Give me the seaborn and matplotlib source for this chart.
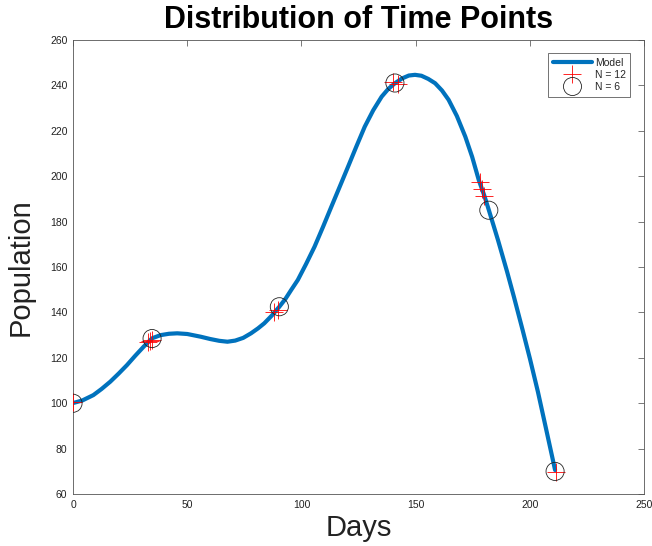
import numpy as np
import matplotlib
matplotlib.use("Agg")
import matplotlib.pyplot as plt
from matplotlib.lines import Line2D
import pandas as pd
import seaborn as sns

# model curve
model_days = [0, 4, 8.9, 12.5, 16.3, 20, 23.6, 27.3, 30.9, 34.6, 38.3, 42, 45.6, 50,
              55.9, 60, 64, 67.6, 71, 74.5, 77.9, 81, 83.7, 87, 90.3, 93, 95.5, 98.4,
              102, 105.7, 109.4, 113.1, 116.8, 120.4, 124, 127.7, 131.4, 135.1, 138,
              140.9, 144, 147, 149.7, 152.5, 155.5, 158.5, 161.5, 164.4, 168, 171.7,
              174.7, 177.6, 180, 182, 186, 190, 193, 196.7, 200, 203.5, 207, 211]
model_pop = [100.1, 101.2, 103.6, 106.3, 109.5, 113.1, 116.8, 121.0, 124.9, 128.6,
             130.0, 130.6, 130.8, 130.5, 129.3, 128.3, 127.5, 127.1, 127.6, 128.8,
             130.8, 133.0, 135.2, 138.6, 142.5, 146.0, 149.9, 154.3, 161.3, 168.9,
             177.6, 186.6, 195.5, 204.2, 213.0, 221.8, 229.0, 235.0, 238.4, 240.9,
             243.0, 244.3, 244.6, 244.2, 242.8, 240.9, 237.7, 233.6, 226.5, 217.4,
             208.5, 198.3, 191.5, 185.1, 171.9, 157.9, 146.8, 132.6, 119.6, 105.0,
             89.0, 70.6]

# N = 12 samples
n12_days = [0.1, 32.7, 33.6, 34.6, 88.1, 89.6, 140.2, 142.4, 178.3, 179.1, 179.8, 211.3]
n12_pop = [100.4, 127.0, 127.5, 128.0, 140.3, 141.1, 241.6, 240.6, 197.6, 194.4, 191.4, 69.8]

# N = 6 samples
n6_days = [0, 34.6, 90.3, 140.9, 182.0, 211.0]
n6_pop = [100.0, 128.5, 142.5, 241.0, 185.0, 70.0]

x_ticks = [0, 50, 100, 150, 200, 250]
y_ticks = [60, 80, 100, 120, 140, 160, 180, 200, 220, 240, 260]

blue = '#0072BD'

sns.set_style("white")
plt.rcParams['font.family'] = ['Liberation Sans', 'DejaVu Sans']

fig = plt.figure(figsize=(6.52, 5.46), dpi=100)
ax = fig.add_axes([0.112, 0.095, 0.876, 0.832])

df_model = pd.DataFrame({'Days': model_days, 'Population': model_pop})
df12 = pd.DataFrame({'Days': n12_days, 'Population': n12_pop})
df6 = pd.DataFrame({'Days': n6_days, 'Population': n6_pop})

sns.lineplot(data=df_model, x='Days', y='Population', ax=ax, color=blue,
             linewidth=3, sort=False, legend=False)
sns.scatterplot(data=df12, x='Days', y='Population', ax=ax, marker='+', s=170,
                color='red', linewidth=0.6, legend=False, zorder=3)
sns.scatterplot(data=df6, x='Days', y='Population', ax=ax, marker='o', s=170,
                color='none', edgecolor='#222222', linewidth=0.6, legend=False, zorder=4)
ax.collections[-1].set_facecolor('none')
ax.collections[-1].set_edgecolor('#222222')

ax.set_xlim(0, 250)
ax.set_ylim(60, 260)
ax.set_xticks(x_ticks)
ax.set_yticks(y_ticks)
ax.tick_params(direction='in', length=4, width=0.5, color='#444444',
               labelsize=7.5, labelcolor='#222222', top=True, right=True, pad=4)
for sp in ax.spines.values():
    sp.set_color('#555555')
    sp.set_linewidth(0.6)

ax.set_xlabel('Days', fontsize=21, color='#222222', labelpad=3)
ax.set_ylabel('Population', fontsize=21, color='#222222')
ax.yaxis.set_label_coords(-0.067, 0.5)

fig.text(0.55, 0.963, 'Distribution of Time Points', ha='center', va='center',
         fontsize=22, fontweight='bold', color='black')

handles = [
    Line2D([], [], color=blue, lw=3),
    Line2D([], [], ls='', marker='+', ms=13, mew=0.6, color='red'),
    Line2D([], [], ls='', marker='o', ms=13, mew=0.6, mfc='none', mec='#222222'),
]
leg = ax.legend(handles, ['Model', 'N = 12', 'N = 6'], loc='upper right',
                bbox_to_anchor=(0.976, 0.971), fontsize=7.5, frameon=True,
                fancybox=False, handlelength=3.7, borderpad=0.45,
                labelspacing=0.2, handletextpad=0.3, borderaxespad=0)
leg.get_frame().set_edgecolor('#333333')
leg.get_frame().set_linewidth(0.6)

fig.savefig('out.png', dpi=100)
